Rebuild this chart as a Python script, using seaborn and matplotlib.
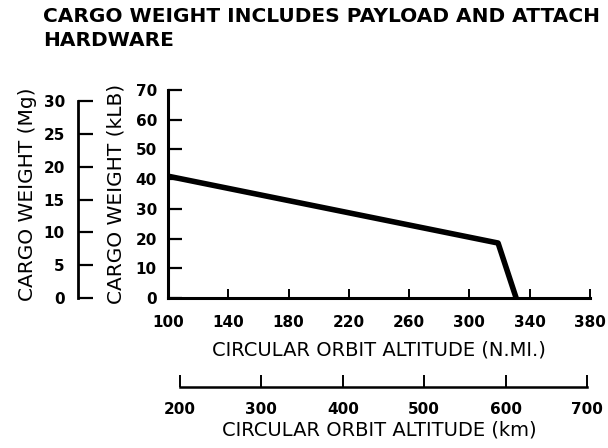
import matplotlib
matplotlib.use("Agg")
import matplotlib.pyplot as plt
import pandas as pd
import seaborn as sns

# --- data ---
altitude_nmi = [100, 319, 331]      # circular orbit altitude (n.mi.)
cargo_klb = [41, 18.5, 0]           # cargo weight (klb)

nmi_ticks = [100, 140, 180, 220, 260, 300, 340, 380]
klb_ticks = [0, 10, 20, 30, 40, 50, 60, 70]
mg_ticks = [0, 5, 10, 15, 20, 25, 30]
km_ticks = [200, 300, 400, 500, 600, 700]

title = "CARGO WEIGHT INCLUDES PAYLOAD AND ATTACH\nHARDWARE"

KLB_PER_MG = 2.20462
KM_PER_NMI = 1.852

sns.set_theme(style="white")
plt.rcParams["font.family"] = ["DejaVu Sans"]
plt.rcParams["text.color"] = "black"
plt.rcParams["axes.labelcolor"] = "black"

fig = plt.figure(figsize=(6.08, 4.48), dpi=100)
ax = fig.add_axes([168 / 608, 1 - 298 / 448, 422 / 608, 208 / 448])

df = pd.DataFrame({"alt": altitude_nmi, "cargo": cargo_klb})
sns.lineplot(data=df, x="alt", y="cargo", ax=ax, color="black",
             linewidth=4, sort=False, estimator=None)

ax.set_xlim(100, 380)
ax.set_ylim(0, 70)
ax.set_xticks(nmi_ticks)
ax.set_yticks(klb_ticks)
for s in ["top", "right"]:
    ax.spines[s].set_visible(False)
for s in ["left", "bottom"]:
    ax.spines[s].set_color("black")
    ax.spines[s].set_linewidth(2.2)

ax.tick_params(axis="y", direction="in", length=10, width=1.6, pad=8,
               colors="black", labelsize=11, left=True)
ax.tick_params(axis="x", direction="in", length=6.5, width=1.4, pad=12,
               colors="black", labelsize=11, bottom=True)
ax.set_ylabel("CARGO WEIGHT (kLB)", fontsize=14.5, labelpad=7)
ax.set_xlabel("CIRCULAR ORBIT ALTITUDE (N.MI.)", fontsize=14, labelpad=8)

# metric weight axis, offset to the left
sec_y = ax.secondary_yaxis(-0.213, functions=(lambda k: k / KLB_PER_MG,
                                               lambda m: m * KLB_PER_MG))
sec_y.set_yticks(mg_ticks)
sec_y.spines["left"].set_bounds(0, 30)
sec_y.spines["left"].set_linewidth(2.0)
sec_y.spines["left"].set_color("black")
sec_y.tick_params(direction="in", length=11, width=1.6, pad=9.5,
                  colors="black", labelsize=11, left=True)
sec_y.set_ylabel("CARGO WEIGHT (Mg)", fontsize=14.5, labelpad=5)

# metric altitude axis, below the plot
sec_x = ax.secondary_xaxis(-0.428, functions=(lambda n: n * KM_PER_NMI,
                                               lambda k: k / KM_PER_NMI))
sec_x.set_xticks(km_ticks)
sec_x.spines["bottom"].set_bounds(200, 700)
sec_x.spines["bottom"].set_linewidth(1.8)
sec_x.spines["bottom"].set_color("black")
sec_x.tick_params(direction="in", length=8.5, width=1.4, pad=11,
                  colors="black", labelsize=11, bottom=True)
sec_x.set_xlabel("CIRCULAR ORBIT ALTITUDE (km)", fontsize=14, labelpad=2)

for a in [ax, sec_y, sec_x]:
    for lab in a.get_xticklabels() + a.get_yticklabels():
        lab.set_fontweight("bold")

fig.text(43 / 608, 1 - 7 / 448, title, fontsize=14.5, fontweight="bold",
         va="top", ha="left", linespacing=1.35)

fig.savefig("out.png", dpi=100)
